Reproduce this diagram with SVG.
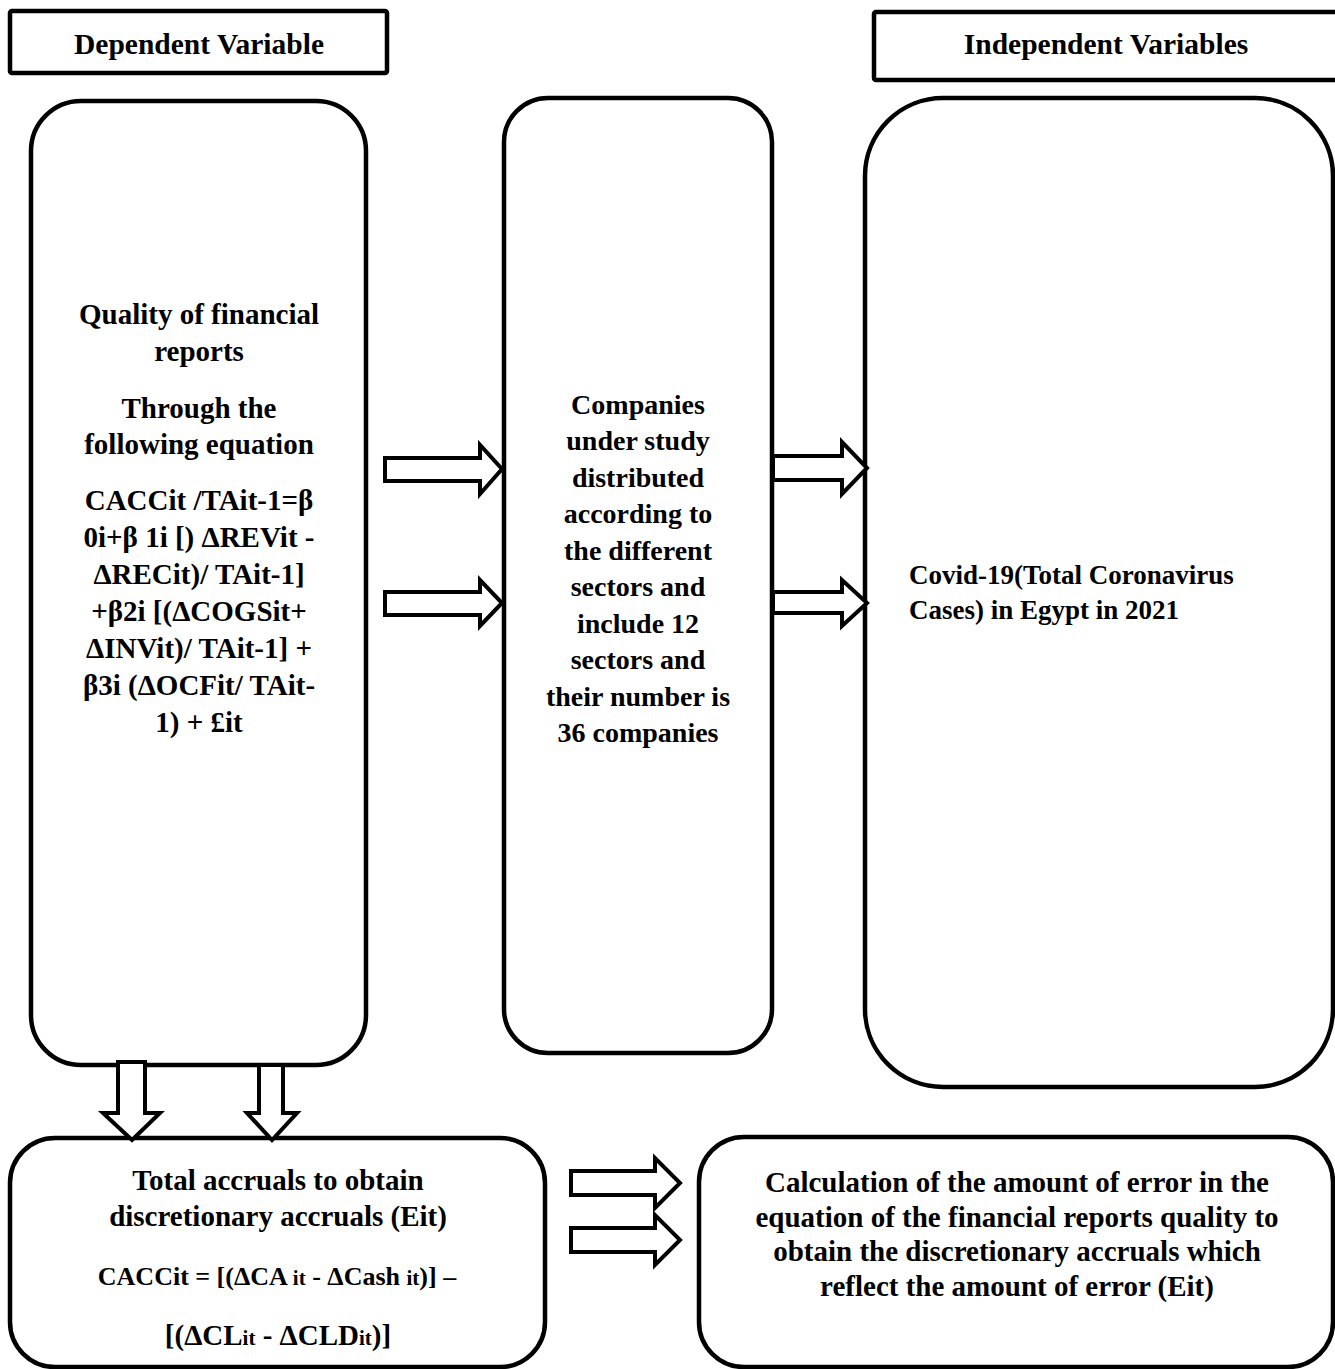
<svg xmlns="http://www.w3.org/2000/svg" width="1335" height="1369" viewBox="0 0 1335 1369">
<style>
.box{fill:#fff;stroke:#000;stroke-width:4.5}
.arr{fill:#fff;stroke:#000;stroke-width:4;stroke-linejoin:miter}
.t{font-family:"Liberation Serif","Times New Roman",serif;font-weight:bold;font-size:29px;fill:#000;text-anchor:middle}
.h{font-size:29.5px}
.m{font-size:28px}
.s{font-size:21px}
</style>
<rect width="1335" height="1369" fill="#fff"/>
<g id="header-dependent">
<rect class="box" x="10" y="11" width="377" height="62" rx="2"/>
<text class="t h" x="199" y="54">Dependent Variable</text>
</g>
<g id="header-independent">
<rect class="box" x="874" y="12" width="480" height="68" rx="2"/>
<text class="t h" x="1106" y="54">Independent Variables</text>
</g>
<g id="node-quality">
<rect class="box" x="31" y="101" width="335" height="964" rx="50"/>
<text class="t" x="199" y="324">Quality of financial</text>
<text class="t" x="199" y="361">reports</text>
<text class="t" x="199" y="418">Through the</text>
<text class="t" x="199" y="454">following equation</text>
<text class="t" x="199" y="510">CACCit /TAit-1=β</text>
<text class="t" x="199" y="547">0i+β 1i [) ΔREVit -</text>
<text class="t" x="199" y="584">ΔRECit)/ TAit-1]</text>
<text class="t" x="199" y="621">+β2i [(ΔCOGSit+</text>
<text class="t" x="199" y="658">ΔINVit)/ TAit-1] +</text>
<text class="t" x="199" y="695">β3i (ΔOCFit/ TAit-</text>
<text class="t" x="199" y="732">1) + £it</text>
</g>
<g id="node-companies">
<rect class="box" x="504" y="98" width="268" height="955" rx="44"/>
<text class="t m" x="638" y="414">Companies</text>
<text class="t m" x="638" y="450">under study</text>
<text class="t m" x="638" y="487">distributed</text>
<text class="t m" x="638" y="523">according to</text>
<text class="t m" x="638" y="560">the different</text>
<text class="t m" x="638" y="596">sectors and</text>
<text class="t m" x="638" y="633">include 12</text>
<text class="t m" x="638" y="669">sectors and</text>
<text class="t m" x="638" y="706">their number is</text>
<text class="t m" x="638" y="742">36 companies</text>
</g>
<g id="node-covid">
<rect class="box" x="865" y="98" width="468" height="989" rx="78"/>
<text class="t" x="909" y="584" style="text-anchor:start;font-size:27px">Covid-19(Total Coronavirus</text>
<text class="t" x="909" y="619" style="text-anchor:start;font-size:27px">Cases) in Egypt in 2021</text>
</g>
<g id="node-total-accruals">
<rect class="box" x="10" y="1138" width="535" height="229" rx="45"/>
<text class="t" x="278" y="1190">Total accruals to obtain</text>
<text class="t" x="278" y="1226">discretionary accruals (Eit)</text>
<text class="t" x="277" y="1285" style="font-size:26px">CACCit = [(ΔCA <tspan class="s">it</tspan> - ΔCash <tspan class="s">it</tspan>)] –</text>
<text class="t" x="278" y="1345">[(ΔCL<tspan class="s">it</tspan>  - ΔCLD<tspan class="s">it</tspan>)]</text>
</g>
<g id="node-calculation">
<rect class="box" x="699" y="1137" width="634" height="230" rx="45"/>
<text class="t" x="1017" y="1192">Calculation of the amount of error in the</text>
<text class="t" x="1017" y="1227">equation of the financial reports quality to</text>
<text class="t" x="1017" y="1261">obtain the discretionary accruals which</text>
<text class="t" x="1017" y="1296">reflect the amount of error (Eit)</text>
</g>
<g id="connectors">
<polygon class="arr" points="385,458 480,458 480,445 502,469 480,494 480,481 385,481"/>
<polygon class="arr" points="385,592 480,592 480,580 502,603 480,626 480,615 385,615"/>
<polygon class="arr" points="773,456 842,456 842,442 867,468 842,494 842,480 773,480"/>
<polygon class="arr" points="773,592 842,592 842,580 867,603 842,626 842,613 773,613"/>
<polygon class="arr" points="118,1062 145,1062 145,1113 160,1113 132,1140 103,1113 118,1113"/>
<polygon class="arr" points="259,1065 283,1065 283,1113 297,1113 272,1140 247,1113 259,1113"/>
<polygon class="arr" points="571,1171 655,1171 655,1158 680,1183 655,1208 655,1195 571,1195"/>
<polygon class="arr" points="571,1228 655,1228 655,1215 680,1240 655,1265 655,1252 571,1252"/>
</g>
</svg>
